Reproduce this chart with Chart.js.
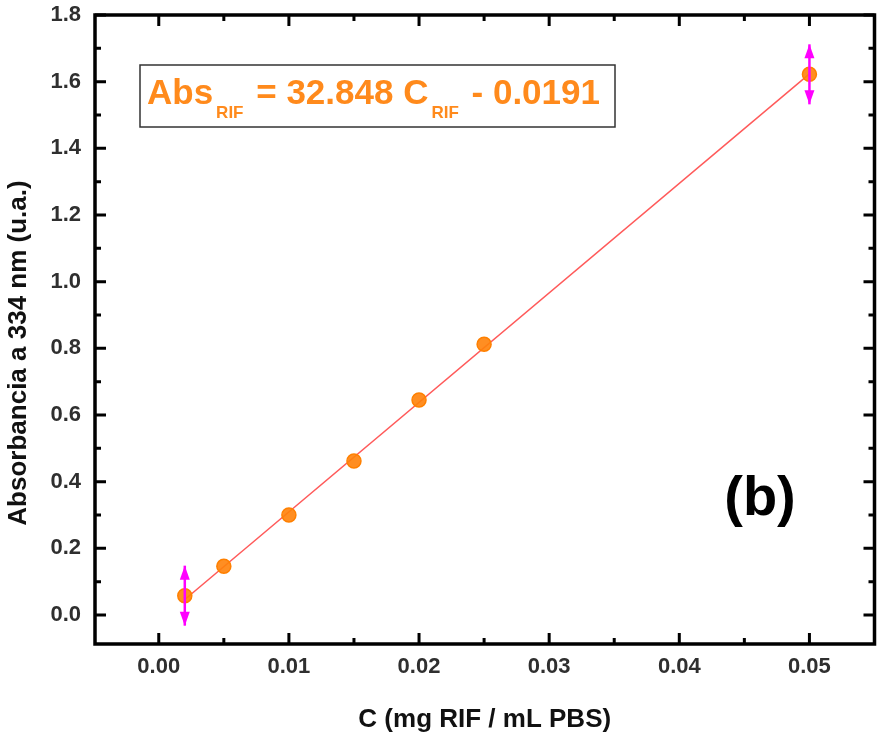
<!DOCTYPE html>
<html>
<head>
<meta charset="utf-8">
<script src="https://cdn.jsdelivr.net/npm/chart.js@4/dist/chart.umd.min.js"></script>
<style>
  body { margin: 0; background: #fff; }
</style>
</head>
<body>
<canvas id="calib" width="883" height="737"></canvas>
<script>
// calibration points: RIF concentration vs absorbance at 334 nm
const conc = [0.002, 0.005, 0.010, 0.015, 0.020, 0.025, 0.050];
const absorb = [0.058, 0.146, 0.300, 0.462, 0.645, 0.812, 1.622];
const absErr = [0.09, 0, 0, 0, 0, 0, 0.09];

// linear fit
const slope = 32.848;
const intercept = -0.0191;
const fitRange = [0.002, 0.050];

const xTicks = [0.00, 0.01, 0.02, 0.03, 0.04, 0.05];
const yTicks = [0.0, 0.2, 0.4, 0.6, 0.8, 1.0, 1.2, 1.4, 1.6, 1.8];

const ORANGE = '#ff8a1c';
const FONT = 'Arial, "Liberation Sans", sans-serif';

document.addEventListener("DOMContentLoaded", function () {
    const ctx = document.getElementById('calib').getContext('2d');

    // magenta error bars with arrow heads
    const errorBars = {
        id: 'errorBars',
        afterDatasetsDraw(chart) {
            const c = chart.ctx, xs = chart.scales.x, ys = chart.scales.y;
            c.save();
            c.strokeStyle = '#ff00ff';
            c.fillStyle = '#ff00ff';
            c.lineWidth = 2.5;
            conc.forEach(function (x, i) {
                if (!absErr[i]) return;
                const px = xs.getPixelForValue(x);
                const top = ys.getPixelForValue(absorb[i] + absErr[i]);
                const bot = ys.getPixelForValue(absorb[i] - absErr[i]);
                c.beginPath();
                c.moveTo(px, top);
                c.lineTo(px, bot);
                c.stroke();
                [[top, 1], [bot, -1]].forEach(function (a) {
                    c.beginPath();
                    c.moveTo(px, a[0]);
                    c.lineTo(px - 5, a[0] + a[1] * 14);
                    c.lineTo(px + 5, a[0] + a[1] * 14);
                    c.closePath();
                    c.fill();
                });
            });
            c.restore();
        }
    };

    // box frame with inward ticks on all four sides, y title, equation and panel tag
    const frame = {
        id: 'frame',
        afterDraw(chart) {
            const c = chart.ctx, a = chart.chartArea;
            const xs = chart.scales.x, ys = chart.scales.y;
            c.save();
            c.strokeStyle = '#000';
            c.lineWidth = 3;
            c.lineCap = 'butt';

            function tick(axis, v, len) {
                c.beginPath();
                if (axis === 'x') {
                    const p = xs.getPixelForValue(v);
                    c.moveTo(p, a.bottom); c.lineTo(p, a.bottom - len);
                    c.moveTo(p, a.top); c.lineTo(p, a.top + len);
                } else {
                    const p = ys.getPixelForValue(v);
                    c.moveTo(a.left, p); c.lineTo(a.left + len, p);
                    c.moveTo(a.right, p); c.lineTo(a.right - len, p);
                }
                c.stroke();
            }
            xTicks.forEach(function (v) { tick('x', v, 11); });
            for (let i = 0; i < xTicks.length - 1; i++) tick('x', (xTicks[i] + xTicks[i + 1]) / 2, 6);
            yTicks.forEach(function (v) { tick('y', v, 11); });
            for (let i = 0; i < yTicks.length - 1; i++) tick('y', (yTicks[i] + yTicks[i + 1]) / 2, 6);

            c.lineWidth = 3.5;
            c.strokeRect(a.left, a.top, a.right - a.left, a.bottom - a.top);

            // y axis title, a bit below the axis middle
            c.save();
            c.translate(19, 353);
            c.rotate(-Math.PI / 2);
            c.fillStyle = '#111';
            c.font = 'bold 26px ' + FONT;
            c.textAlign = 'center';
            c.textBaseline = 'middle';
            c.fillText('Absorbancia a 334 nm (u.a.)', 0, 0);
            c.restore();

            // fit equation box
            c.lineWidth = 1.5;
            c.strokeStyle = '#333';
            c.strokeRect(140, 65, 475, 62);
            c.fillStyle = ORANGE;
            c.textBaseline = 'alphabetic';
            c.textAlign = 'left';
            const big = 'bold 35px ' + FONT, small = 'bold 17px ' + FONT;
            let x = 147;
            const parts = [
                ['Abs', big, 0], ['RIF', small, 14], [' = 32.848 C', big, 0],
                ['RIF', small, 14], [' - 0.0191', big, 0]
            ];
            parts.forEach(function (p) {
                const sub = p[1] === small;
                if (sub) x += 3;
                c.font = p[1];
                c.fillText(p[0], x, 104 + p[2]);
                x += c.measureText(p[0]).width + (sub ? 3 : 0);
            });

            c.fillStyle = '#000';
            c.font = 'bold 56px ' + FONT;
            c.textAlign = 'center';
            c.textBaseline = 'middle';
            c.fillText('(b)', 760, 500);
            c.restore();
        }
    };

    new Chart(ctx, {
        type: 'scatter',
        data: {
            datasets: [{
                label: 'fit',
                type: 'line',
                data: fitRange.map(function (x) { return { x: x, y: slope * x + intercept }; }),
                borderColor: '#ff5a5a',
                borderWidth: 1.5,
                pointRadius: 0,
                order: 2
            }, {
                label: 'RIF',
                data: conc.map(function (x, i) { return { x: x, y: absorb[i] }; }),
                backgroundColor: 'rgba(255,130,10,0.9)',
                borderColor: '#ff8000',
                borderWidth: 1.5,
                pointRadius: 7,
                order: 1
            }]
        },
        options: {
            responsive: false,
            animation: false,
            layout: { padding: { top: 15, right: 4, bottom: 0, left: 0 } },
            plugins: { legend: { display: false }, tooltip: { enabled: false } },
            scales: {
                x: {
                    type: 'linear',
                    min: -0.0049,
                    max: 0.055,
                    afterBuildTicks: function (s) { s.ticks = xTicks.map(function (v) { return { value: v }; }); },
                    afterFit: function (s) { s.height = 93; s.paddingLeft = 0; s.paddingRight = 0; },
                    grid: { display: false, drawTicks: false },
                    border: { display: false },
                    ticks: {
                        padding: 10,
                        color: '#2f2f2f',
                        font: { family: FONT, size: 22, weight: 'bold' },
                        callback: function (v) { return v.toFixed(2); }
                    },
                    title: {
                        display: true,
                        text: 'C (mg RIF / mL PBS)',
                        color: '#111',
                        font: { family: FONT, size: 26, weight: 'bold' },
                        padding: { top: 0, bottom: 2 }
                    }
                },
                y: {
                    type: 'linear',
                    min: -0.087,
                    max: 1.8,
                    afterBuildTicks: function (s) { s.ticks = yTicks.map(function (v) { return { value: v }; }); },
                    afterFit: function (s) { s.width = 95; s.paddingTop = 0; s.paddingBottom = 0; },
                    grid: { display: false, drawTicks: false },
                    border: { display: false },
                    ticks: {
                        padding: 14,
                        color: '#2f2f2f',
                        font: { family: FONT, size: 22, weight: 'bold' },
                        callback: function (v) { return v.toFixed(1); }
                    }
                }
            }
        },
        plugins: [errorBars, frame]
    });
});
</script>
</body>
</html>
